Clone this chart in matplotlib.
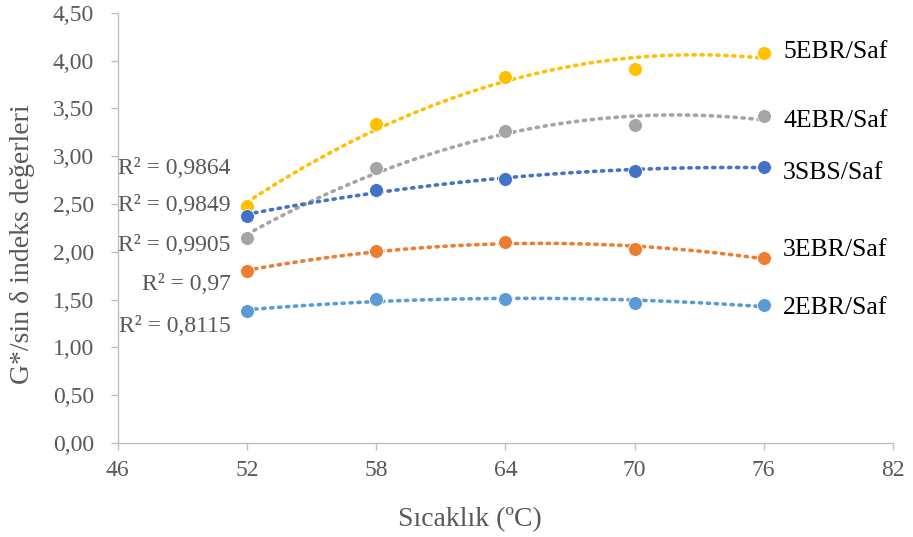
import numpy as np
import matplotlib
matplotlib.use("Agg")
import matplotlib.pyplot as plt

plt.rcParams['font.family'] = ['Liberation Serif', 'DejaVu Serif']

temps = [52, 58, 64, 70, 76]
series_names = ["5EBR/Saf", "4EBR/Saf", "3SBS/Saf", "3EBR/Saf", "2EBR/Saf"]
vals_5ebr = [2.48, 3.34, 3.83, 3.91, 4.08]
vals_4ebr = [2.15, 2.88, 3.26, 3.33, 3.42]
vals_3sbs = [2.38, 2.65, 2.76, 2.85, 2.89]
vals_3ebr = [1.80, 2.01, 2.10, 2.03, 1.94]
vals_2ebr = [1.38, 1.51, 1.51, 1.47, 1.44]
colors = ["#FFC000", "#A5A5A5", "#4472C4", "#ED7D31", "#5B9BD5"]

r2_labels = ["R² = 0,9864", "R² = 0,9849", "R² = 0,9905", "R² = 0,97", "R² = 0,8115"]
r2_y = [2.87, 2.49, 2.07, 1.66, 1.22]
name_y = [4.09, 3.37, 2.83, 2.02, 1.41]

all_vals = [vals_5ebr, vals_4ebr, vals_3sbs, vals_3ebr, vals_2ebr]

fig = plt.figure(figsize=(9.13, 5.37), dpi=100)
ax = fig.add_axes([0.129, 0.175, 0.849, 0.801])

# 2nd order polynomial trendlines, as in the spreadsheet chart
xs = np.linspace(min(temps), max(temps), 200)
for vals, c in zip(all_vals, colors):
    coef = np.polyfit(temps, vals, 2)
    ax.plot(xs, np.polyval(coef, xs), color=c, lw=2.6,
            linestyle=(0, (0.6, 1.6)), dash_capstyle='round', zorder=2)
    ax.scatter(temps, vals, s=100, color=c, edgecolors='white',
               linewidths=0.6, zorder=3)

for name, y in zip(series_names, name_y):
    ax.text(76.9, y, name, fontsize=18.5, color='black', va='center', ha='left')

for lab, y in zip(r2_labels, r2_y):
    ax.text(51.25, y, lab, fontsize=17, color='#595959', va='center', ha='right')

ax.set_xlim(46, 82)
ax.set_ylim(0, 4.5)
ax.set_xticks(range(46, 83, 6))
ax.set_yticks(np.arange(0, 4.51, 0.5))
ax.set_yticklabels([f"{v:.2f}".replace('.', ',') for v in np.arange(0, 4.51, 0.5)])

for s in ['top', 'right']:
    ax.spines[s].set_visible(False)
for s in ['left', 'bottom']:
    ax.spines[s].set_color('#BFBFBF')
    ax.spines[s].set_linewidth(1.0)
ax.tick_params(axis='both', colors='#BFBFBF', labelcolor='#595959',
               labelsize=17, length=5, width=1.0, direction='out')
ax.tick_params(axis='y', pad=12)
ax.tick_params(axis='x', pad=7)

ax.set_xlabel("Sıcaklık (ºC)", fontsize=20, color='#595959')
ax.set_ylabel("G*/sin δ indeks değerleri", fontsize=20, color='#595959')
ax.xaxis.set_label_coords(0.454, -0.179)
ax.yaxis.set_label_coords(-0.123, 0.463)
ax.xaxis.label.set_va('center')
ax.yaxis.label.set_va('center')

fig.savefig("out.png", dpi=100)
